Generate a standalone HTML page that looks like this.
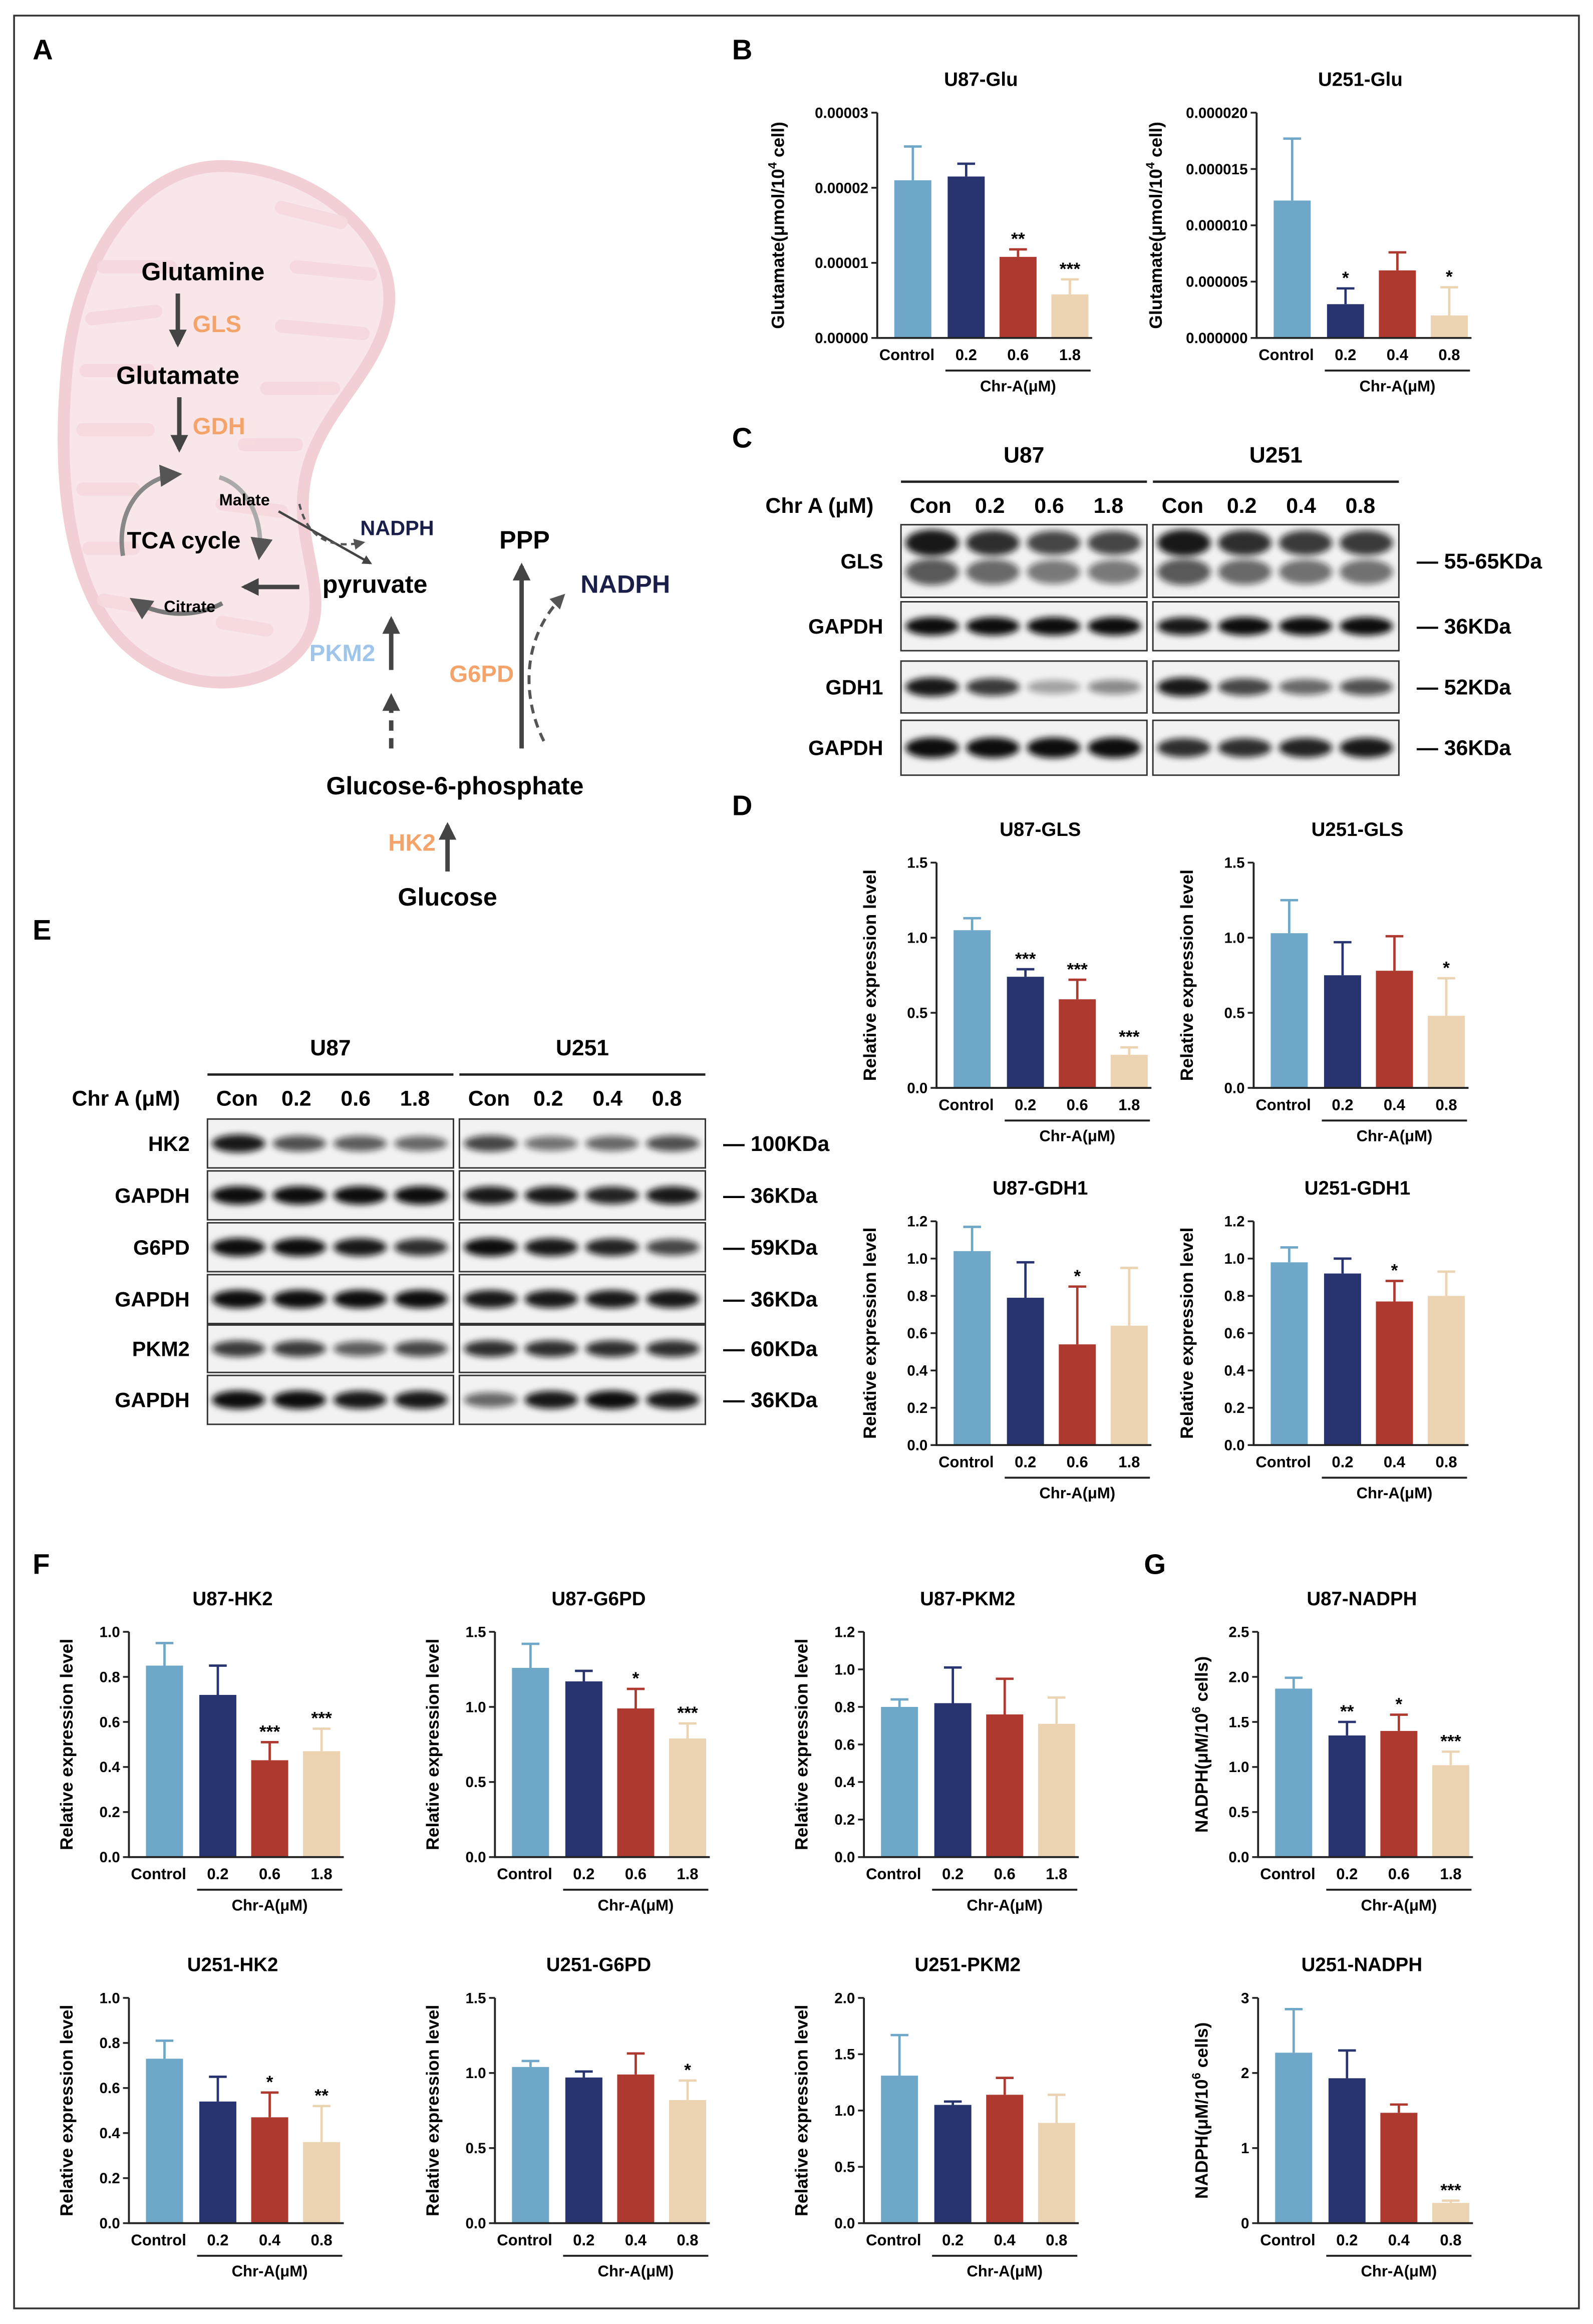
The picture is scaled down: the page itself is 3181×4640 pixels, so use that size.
<!DOCTYPE html>
<html><head><meta charset="utf-8"><style>
html,body{margin:0;padding:0;background:#fff}
svg{display:block}
text{font-family:"Liberation Sans",Arial,sans-serif;font-weight:bold}
</style></head><body>
<svg id="fig" xmlns="http://www.w3.org/2000/svg" width="3181" height="4640" viewBox="0 0 1075 1568">
<defs>
<filter id="blur" x="-30%" y="-80%" width="160%" height="260%"><feGaussianBlur stdDeviation="2.2"/></filter>
<marker id="ah" viewBox="0 0 10 10" refX="8" refY="5" markerWidth="4" markerHeight="4" orient="auto"><path d="M0,0L10,5L0,10z" fill="#444"/></marker>
<marker id="ahs" viewBox="0 0 10 10" refX="8" refY="5" markerWidth="5" markerHeight="5" orient="auto"><path d="M0,0L10,5L0,10z" fill="#555"/></marker>
</defs>
<rect x="9.5" y="10.5" width="1056" height="1547" fill="none" stroke="#333" stroke-width="1.2"/>
<g font-size="19">
<text x="22" y="40">A</text><text x="494" y="40">B</text><text x="494" y="302">C</text>
<text x="494" y="550">D</text><text x="22" y="634">E</text><text x="22" y="1062">F</text><text x="772" y="1062">G</text>
</g>
<g>
<path d="M150,112 C95,112 52,170 45,250 C38,330 48,400 85,435 C120,468 180,470 205,435 C225,405 200,370 205,330 C210,280 255,255 262,210 C270,160 210,112 150,112 Z" fill="#f9e6e9" stroke="#f2cfd5" stroke-width="8"/>
<g fill="none" stroke="#f5d8dd" stroke-width="9" stroke-linecap="round" opacity="0.9">
<path d="M70,180 L115,180"/><path d="M62,215 L105,210"/><path d="M58,250 L100,250"/><path d="M56,290 L100,290"/><path d="M56,330 L90,330"/><path d="M60,370 L90,370"/><path d="M70,405 L100,410"/>
<path d="M190,140 L230,150"/><path d="M200,180 L250,185"/><path d="M190,220 L245,225"/><path d="M180,262 L225,262"/><path d="M165,300 L200,300"/><path d="M150,340 L190,345"/><path d="M150,420 L180,425"/>
</g>
<text x="137" y="189" font-size="17" text-anchor="middle">Glutamine</text>
<line x1="120" y1="198" x2="120" y2="232" stroke="#444" stroke-width="3" marker-end="url(#ah)"/>
<text x="130" y="224" font-size="16" fill="#f4a46a">GLS</text>
<text x="120" y="259" font-size="17" text-anchor="middle">Glutamate</text>
<line x1="121" y1="268" x2="121" y2="303" stroke="#444" stroke-width="3" marker-end="url(#ah)"/>
<text x="130" y="293" font-size="16" fill="#f4a46a">GDH</text>
<path d="M83,375 C78,345 95,322 120,320" fill="none" stroke="#888" stroke-width="3" marker-end="url(#ahs)"/>
<path d="M148,322 C168,328 178,352 175,375" fill="none" stroke="#aaa" stroke-width="3" marker-end="url(#ahs)"/>
<path d="M150,407 C130,418 105,415 90,405" fill="none" stroke="#777" stroke-width="3" marker-end="url(#ahs)"/>
<text x="124" y="370" font-size="16" text-anchor="middle">TCA cycle</text>
<text x="165" y="341" font-size="11" text-anchor="middle">Malate</text>
<text x="128" y="413" font-size="11" text-anchor="middle">Citrate</text>
<line x1="188" y1="345" x2="250" y2="380" stroke="#444" stroke-width="1.6" marker-end="url(#ah)"/>
<path d="M202,340 C208,365 225,370 245,366" fill="none" stroke="#555" stroke-width="1.5" stroke-dasharray="4,3" marker-end="url(#ahs)"/>
<text x="268" y="361" font-size="14" fill="#1a1f4a" text-anchor="middle">NADPH</text>
<line x1="202" y1="396" x2="165" y2="396" stroke="#444" stroke-width="3" marker-end="url(#ah)"/>
<text x="253" y="400" font-size="17" text-anchor="middle">pyruvate</text>
<text x="354" y="370" font-size="17" text-anchor="middle">PPP</text>
<text x="422" y="400" font-size="17" fill="#1a1f4a" text-anchor="middle">NADPH</text>
<line x1="264" y1="452" x2="264" y2="418" stroke="#444" stroke-width="3" marker-end="url(#ah)"/>
<line x1="264" y1="505" x2="264" y2="470" stroke="#444" stroke-width="3" stroke-dasharray="7,5" marker-end="url(#ah)"/>
<text x="231" y="446" font-size="16" fill="#9fc6ea" text-anchor="middle">PKM2</text>
<line x1="352" y1="505" x2="352" y2="382" stroke="#444" stroke-width="3" marker-end="url(#ah)"/>
<path d="M367,500 C352,470 352,430 380,402" fill="none" stroke="#555" stroke-width="2" stroke-dasharray="6,4" marker-end="url(#ahs)"/>
<text x="325" y="460" font-size="16" fill="#f4a46a" text-anchor="middle">G6PD</text>
<text x="307" y="536" font-size="17" text-anchor="middle">Glucose-6-phosphate</text>
<line x1="302" y1="588" x2="302" y2="557" stroke="#444" stroke-width="3" marker-end="url(#ah)"/>
<text x="278" y="574" font-size="16" fill="#f4a46a" text-anchor="middle">HK2</text>
<text x="302" y="611" font-size="17" text-anchor="middle">Glucose</text>
</g>
<g id="blots"></g>
<g id="charts"></g>
</svg>
<script>
const catsU87=['Control','0.2','0.6','1.8'];
const catsU251=['Control','0.2','0.4','0.8'];
const u87GluVals=[0.0000210,0.0000215,0.0000108,0.0000058];
const u87GluErrs=[0.0000045,0.0000017,0.0000010,0.0000020];
const u87GluSig=['','','**','***'];
const u87GluTicks=[0,0.00001,0.00002,0.00003];
const u87GluTickLabels=['0.00000','0.00001','0.00002','0.00003'];
const u251GluVals=[0.0000122,0.0000030,0.0000060,0.0000020];
const u251GluErrs=[0.0000055,0.0000014,0.0000016,0.0000025];
const u251GluSig=['','*','','*'];
const u251GluTicks=[0,0.000005,0.00001,0.000015,0.00002];
const u251GluTickLabels=['0.000000','0.000005','0.000010','0.000015','0.000020'];
const u87GlsVals=[1.05,0.74,0.59,0.22];
const u87GlsErrs=[0.08,0.05,0.13,0.05];
const u87GlsSig=['','***','***','***'];
const u251GlsVals=[1.03,0.75,0.78,0.48];
const u251GlsErrs=[0.22,0.22,0.23,0.25];
const u251GlsSig=['','','','*'];
const glsTicks=[0,0.5,1.0,1.5];
const glsTickLabels=['0.0','0.5','1.0','1.5'];
const u87Gdh1Vals=[1.04,0.79,0.54,0.64];
const u87Gdh1Errs=[0.13,0.19,0.31,0.31];
const u87Gdh1Sig=['','','*',''];
const u251Gdh1Vals=[0.98,0.92,0.77,0.80];
const u251Gdh1Errs=[0.08,0.08,0.11,0.13];
const u251Gdh1Sig=['','','*',''];
const gdhTicks=[0,0.2,0.4,0.6,0.8,1.0,1.2];
const gdhTickLabels=['0.0','0.2','0.4','0.6','0.8','1.0','1.2'];
const u87Hk2Vals=[0.85,0.72,0.43,0.47];
const u87Hk2Errs=[0.10,0.13,0.08,0.10];
const u87Hk2Sig=['','','***','***'];
const u251Hk2Vals=[0.73,0.54,0.47,0.36];
const u251Hk2Errs=[0.08,0.11,0.11,0.16];
const u251Hk2Sig=['','','*','**'];
const hk2Ticks=[0,0.2,0.4,0.6,0.8,1.0];
const hk2TickLabels=['0.0','0.2','0.4','0.6','0.8','1.0'];
const u87G6pdVals=[1.26,1.17,0.99,0.79];
const u87G6pdErrs=[0.16,0.07,0.13,0.10];
const u87G6pdSig=['','','*','***'];
const u251G6pdVals=[1.04,0.97,0.99,0.82];
const u251G6pdErrs=[0.04,0.04,0.14,0.13];
const u251G6pdSig=['','','','*'];
const g6pdTicks=[0,0.5,1.0,1.5];
const g6pdTickLabels=['0.0','0.5','1.0','1.5'];
const u87Pkm2Vals=[0.80,0.82,0.76,0.71];
const u87Pkm2Errs=[0.04,0.19,0.19,0.14];
const u87Pkm2Sig=['','','',''];
const u87Pkm2Ticks=[0,0.2,0.4,0.6,0.8,1.0,1.2];
const u87Pkm2TickLabels=['0.0','0.2','0.4','0.6','0.8','1.0','1.2'];
const u251Pkm2Vals=[1.31,1.05,1.14,0.89];
const u251Pkm2Errs=[0.36,0.03,0.15,0.25];
const u251Pkm2Sig=['','','',''];
const u251Pkm2Ticks=[0,0.5,1.0,1.5,2.0];
const u251Pkm2TickLabels=['0.0','0.5','1.0','1.5','2.0'];
const u87NadphVals=[1.87,1.35,1.40,1.02];
const u87NadphErrs=[0.12,0.15,0.18,0.15];
const u87NadphSig=['','**','*','***'];
const u87NadphTicks=[0,0.5,1.0,1.5,2.0,2.5];
const u87NadphTickLabels=['0.0','0.5','1.0','1.5','2.0','2.5'];
const u251NadphVals=[2.27,1.93,1.47,0.27];
const u251NadphErrs=[0.58,0.37,0.11,0.03];
const u251NadphSig=['','','','***'];
const u251NadphTicks=[0,1,2,3];
const u251NadphTickLabels=['0','1','2','3'];

const NS='http://www.w3.org/2000/svg';
const colors=['#6ea7c7','#27346f','#ae3a2f','#ecd3b1'];
function mk(tag,attrs,parent){const e=document.createElementNS(NS,tag);for(const k in attrs)e.setAttribute(k,attrs[k]);parent.appendChild(e);return e;}
const chartRoot=document.getElementById('charts');

function drawChart(name,title,yTitle,ax,top,bottom,ytOff,cats,vals,errs,sig,ticks,tickLabels){
  const g=mk('g',{},chartRoot);
  
  
  const maxV=ticks[ticks.length-1];
  const y=v=>bottom-(v/maxV)*(bottom-top);
  const offs=[24,60,95,130];
  const bw=25;
  const xc=i=>ax+offs[i];
  const t=mk('text',{x:ax+70,y:top-18,'font-size':13,'text-anchor':'middle'},g);
  t.textContent=title;
  
  
  const yt=mk('text',{x:0,y:0,'font-size':12,'text-anchor':'middle',transform:`translate(${ax+ytOff},${(top+bottom)/2}) rotate(-90)`},g);
  yt.innerHTML=yTitle;
  
  
  vals.forEach((v,i)=>{
    const col=colors[i];
    const r=mk('rect',{x:xc(i)-bw/2,y:y(v),width:bw,height:bottom-y(v),fill:col},g);
    
    
    const ey=y(v+errs[i]);
    const el=mk('path',{d:`M${xc(i)},${y(v)}V${ey}M${xc(i)-6},${ey}H${xc(i)+6}`,stroke:col,'stroke-width':1.6,fill:'none'},g);
    
    
    if(sig[i]){
      const s=mk('text',{x:xc(i),y:ey-3,'font-size':12,'text-anchor':'middle'},g);
      s.textContent=sig[i];
      
      
    }
    const xl=mk('text',{x:i===0?xc(i)-4:xc(i),y:bottom+15,'font-size':10.5,'text-anchor':'middle'},g);
    xl.textContent=cats[i];
    
    
  });
  const axp=mk('path',{d:`M${ax},${top}V${bottom}H${ax+145}`,stroke:'#222','stroke-width':1.3,fill:'none'},g);
  
  
  ticks.forEach((tv,i)=>{
    const tk=mk('line',{x1:ax-4,x2:ax,y1:y(tv),y2:y(tv),stroke:'#222','stroke-width':1.2},g);
    
    
    const tl=mk('text',{x:ax-6,y:y(tv)+3.5,'font-size':10,'text-anchor':'end'},g);
    tl.textContent=tickLabels[i];
    
    
  });
  const ul=mk('line',{x1:xc(1)-14,x2:xc(3)+14,y1:bottom+22,y2:bottom+22,stroke:'#222','stroke-width':1.3},g);
  
  
  const ct=mk('text',{x:(xc(1)+xc(3))/2,y:bottom+36,'font-size':10.5,'text-anchor':'middle'},g);
  ct.textContent='Chr-A(μM)';
  
  
}
const rel='Relative expression level';
drawChart('chart-u87-glu','U87-Glu','Glutamate(μmol/10<tspan font-size="8" dy="-5">4</tspan><tspan dy="5"> cell)</tspan>',592,76,228,-63,catsU87,u87GluVals,u87GluErrs,u87GluSig,u87GluTicks,u87GluTickLabels);
drawChart('chart-u251-glu','U251-Glu','Glutamate(μmol/10<tspan font-size="8" dy="-5">4</tspan><tspan dy="5"> cell)</tspan>',848,76,228,-64,catsU251,u251GluVals,u251GluErrs,u251GluSig,u251GluTicks,u251GluTickLabels);
drawChart('chart-u87-gls','U87-GLS',rel,632,582,734,-41,catsU87,u87GlsVals,u87GlsErrs,u87GlsSig,glsTicks,glsTickLabels);
drawChart('chart-u251-gls','U251-GLS',rel,846,582,734,-41,catsU251,u251GlsVals,u251GlsErrs,u251GlsSig,glsTicks,glsTickLabels);
drawChart('chart-u87-gdh1','U87-GDH1',rel,632,824,975,-41,catsU87,u87Gdh1Vals,u87Gdh1Errs,u87Gdh1Sig,gdhTicks,gdhTickLabels);
drawChart('chart-u251-gdh1','U251-GDH1',rel,846,824,975,-41,catsU251,u251Gdh1Vals,u251Gdh1Errs,u251Gdh1Sig,gdhTicks,gdhTickLabels);
drawChart('chart-u87-hk2','U87-HK2',rel,87,1101,1253,-38,catsU87,u87Hk2Vals,u87Hk2Errs,u87Hk2Sig,hk2Ticks,hk2TickLabels);
drawChart('chart-u87-g6pd','U87-G6PD',rel,334,1101,1253,-38,catsU87,u87G6pdVals,u87G6pdErrs,u87G6pdSig,g6pdTicks,g6pdTickLabels);
drawChart('chart-u87-pkm2','U87-PKM2',rel,583,1101,1253,-38,catsU87,u87Pkm2Vals,u87Pkm2Errs,u87Pkm2Sig,u87Pkm2Ticks,u87Pkm2TickLabels);
drawChart('chart-u87-nadph','U87-NADPH','NADPH(μM/10<tspan font-size="8" dy="-5">6</tspan><tspan dy="5"> cells)</tspan>',849,1101,1253,-34,catsU87,u87NadphVals,u87NadphErrs,u87NadphSig,u87NadphTicks,u87NadphTickLabels);
drawChart('chart-u251-hk2','U251-HK2',rel,87,1348,1500,-38,catsU251,u251Hk2Vals,u251Hk2Errs,u251Hk2Sig,hk2Ticks,hk2TickLabels);
drawChart('chart-u251-g6pd','U251-G6PD',rel,334,1348,1500,-38,catsU251,u251G6pdVals,u251G6pdErrs,u251G6pdSig,g6pdTicks,g6pdTickLabels);
drawChart('chart-u251-pkm2','U251-PKM2',rel,583,1348,1500,-38,catsU251,u251Pkm2Vals,u251Pkm2Errs,u251Pkm2Sig,u251Pkm2Ticks,u251Pkm2TickLabels);
drawChart('chart-u251-nadph','U251-NADPH','NADPH(μM/10<tspan font-size="8" dy="-5">6</tspan><tspan dy="5"> cells)</tspan>',849,1348,1500,-34,catsU251,u251NadphVals,u251NadphErrs,u251NadphSig,u251NadphTicks,u251NadphTickLabels);

const blotRoot=document.getElementById('blots');
function blotPanel(name,leftX,rightX,boxW,hdrY,lanes1,lanes2,lanesY,chrX,rows){
  const g=mk('g',{},blotRoot);
  
  
  [[leftX,'U87',lanes1],[rightX,'U251',lanes2]].forEach(([bx,lbl,lanes])=>{
    const h=mk('text',{x:bx+boxW/2,y:hdrY,'font-size':15,'text-anchor':'middle'},g);
    h.textContent=lbl;
    
    
    const l=mk('line',{x1:bx,x2:bx+boxW,y1:hdrY+13,y2:hdrY+13,stroke:'#222','stroke-width':1.6},g);
    
    
    ['Con',...lanes].forEach((c,i)=>{
      const t=mk('text',{x:bx+20+i*40,y:lanesY,'font-size':14.5,'text-anchor':'middle'},g);
      t.textContent=c;
      
      
    });
  });
  const ch=mk('text',{x:chrX,y:lanesY,'font-size':14.5,'text-anchor':'middle'},g);
  ch.textContent='Chr A (μM)';
  
  
  rows.forEach(r=>{
    const rl=mk('text',{x:leftX-12,y:(r.y0+r.y1)/2+5,'font-size':14,'text-anchor':'end'},g);
    rl.textContent=r.label;
    
    
    const kd=mk('text',{x:rightX+boxW+12,y:(r.y0+r.y1)/2+5,'font-size':14.5},g);
    kd.textContent='— '+r.kda;
    
    
    [leftX,rightX].forEach((bx,side)=>{
      const box=mk('rect',{x:bx,y:r.y0,width:boxW,height:r.y1-r.y0,fill:'#f2f2f2',stroke:'#333','stroke-width':1},g);
      
      
      const ints=r.ints[side];
      (r.bands||[0.5]).forEach((bp,bi)=>{
        ints.forEach((v,i)=>{
          const e=mk('ellipse',{cx:bx+21+i*41,cy:r.y0+(r.y1-r.y0)*bp,rx:18,ry:(r.y1-r.y0)*0.17*(0.6+v*0.5),fill:'#111',opacity:Math.min(1,v*(bi? (r.b2||0.8):1)),filter:'url(#blur)'},g);
          
          
        });
      });
    });
  });
}
blotPanel('blot-panel-c',608,778,166,312,['0.2','0.6','1.8'],['0.2','0.4','0.8'],346,553,[
  {label:'GLS',kda:'55-65KDa',y0:354,y1:403,bands:[0.25,0.65],b2:0.7,ints:[[0.95,0.85,0.75,0.75],[0.95,0.85,0.8,0.8]]},
  {label:'GAPDH',kda:'36KDa',y0:406,y1:439,ints:[[1,1,1,1],[0.95,1,1,1]]},
  {label:'GDH1',kda:'52KDa',y0:446,y1:481,ints:[[0.95,0.8,0.35,0.45],[0.95,0.75,0.6,0.7]]},
  {label:'GAPDH',kda:'36KDa',y0:486,y1:523,ints:[[1,1,1,1],[0.85,0.85,0.9,0.95]]}
]);
blotPanel('blot-panel-e',140,310,166,712,['0.2','0.6','1.8'],['0.2','0.4','0.8'],746,85,[
  {label:'HK2',kda:'100KDa',y0:755,y1:788,ints:[[0.95,0.7,0.65,0.6],[0.75,0.55,0.6,0.7]]},
  {label:'GAPDH',kda:'36KDa',y0:790,y1:823,ints:[[1,1,1,1],[0.95,0.95,0.9,0.95]]},
  {label:'G6PD',kda:'59KDa',y0:825,y1:858,ints:[[1,1,0.95,0.85],[1,0.95,0.9,0.75]]},
  {label:'GAPDH',kda:'36KDa',y0:860,y1:893,ints:[[1,1,1,1],[0.95,0.95,0.95,0.95]]},
  {label:'PKM2',kda:'60KDa',y0:894,y1:926,ints:[[0.8,0.8,0.65,0.75],[0.85,0.85,0.85,0.85]]},
  {label:'GAPDH',kda:'36KDa',y0:928,y1:961,ints:[[1,1,0.95,0.95],[0.6,0.95,1,0.95]]}
]);
</script>
</body></html>
